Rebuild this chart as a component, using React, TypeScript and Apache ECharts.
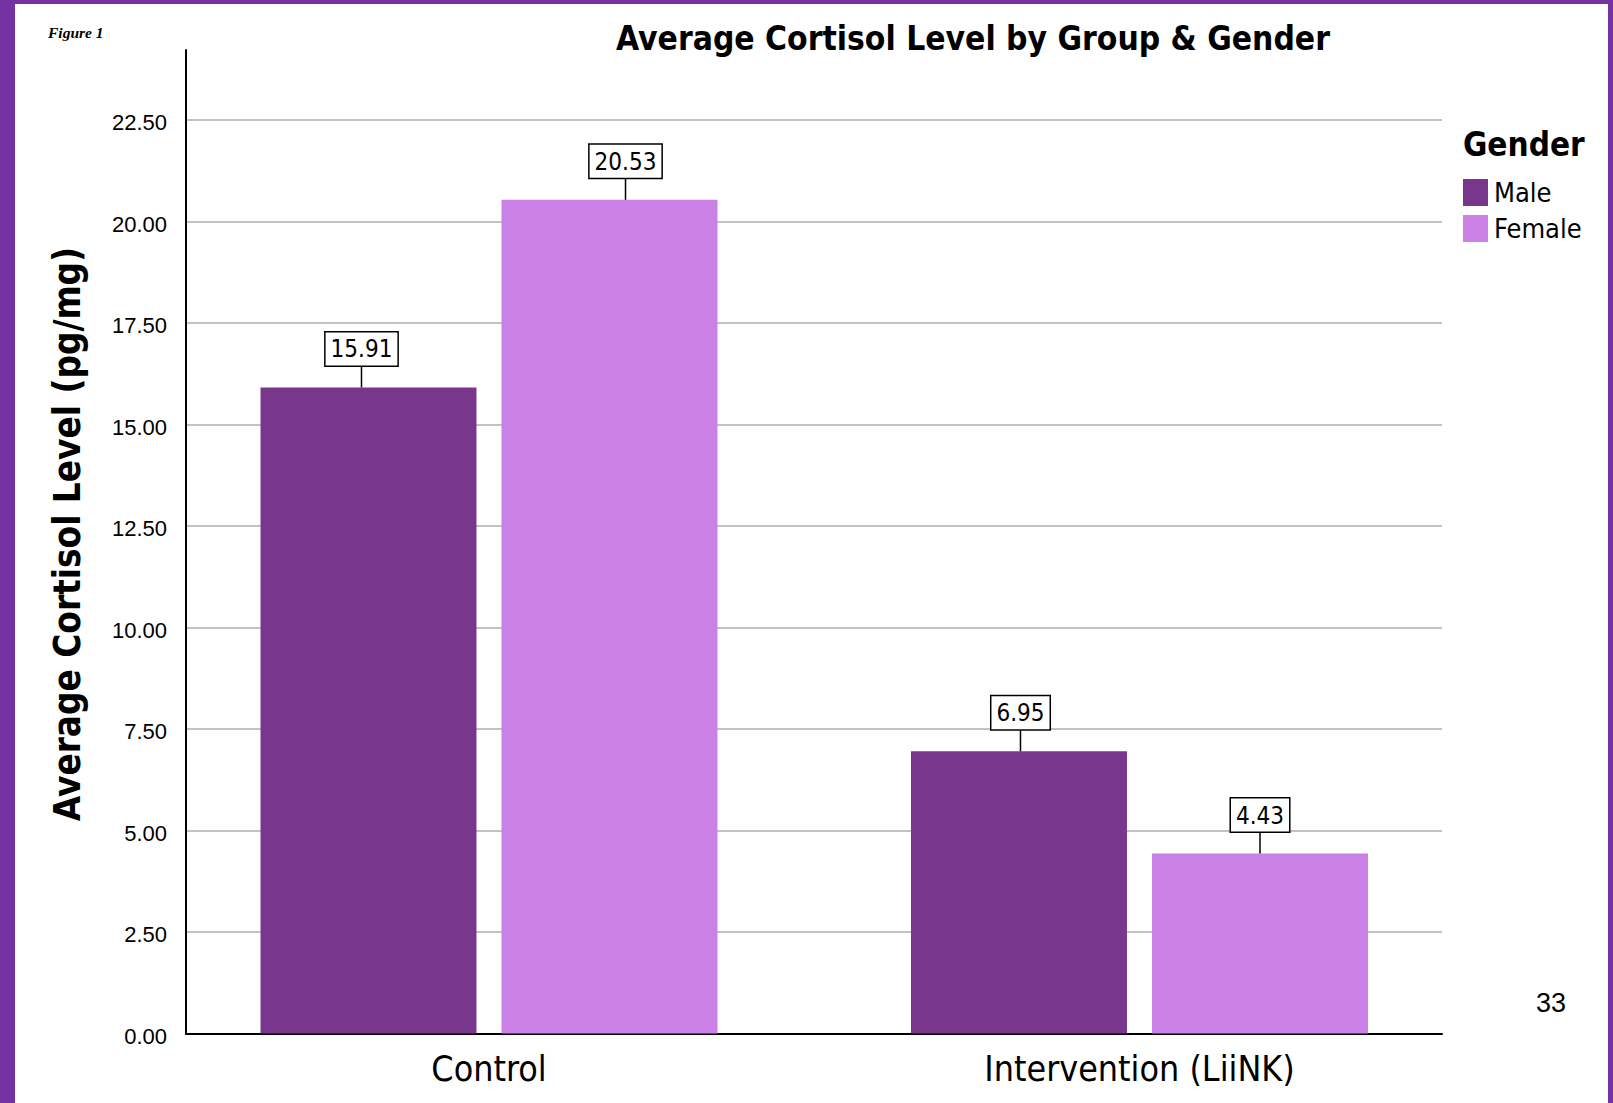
import React, { useEffect, useRef } from 'react';
import * as echarts from 'echarts';

// ---- data ----
const categories = ['Control', 'Intervention (LiiNK)'];
const seriesNames = ['Male', 'Female'];
const maleValues = [15.91, 6.95];
const femaleValues = [20.53, 4.43];
const yTicks = [0, 2.5, 5, 7.5, 10, 12.5, 15, 17.5, 20, 22.5];
const chartTitle = 'Average Cortisol Level by Group & Gender';
const yAxisTitle = 'Average Cortisol Level (pg/mg)';
const legendTitle = 'Gender';
const figureLabel = 'Figure 1';
const pageNumber = '33';

// ---- style ----
const AXIS_MAX = 24.22;
const BAR_W = 0.332;
const BAR_GAP = 0.116;
const LABEL_SHIFT = [
  [-7, 1.5],
  [16, 0],
];
const COLORS = ['#78368C', '#CB80E5'];
const BORDER = '#7432A2';
const FONT = "'DejaVu Sans Condensed', 'DejaVu Sans', sans-serif";
const ARIAL = "'Liberation Sans', Arial, sans-serif";

export default function App() {
  const ref = useRef<HTMLDivElement>(null);

  useEffect(() => {
    document.body.style.margin = '0';
    const chart = echarts.init(ref.current!, null, { renderer: 'svg' });

    const valuesBySeries = [maleValues, femaleValues];

    const makeLabelSeries = (si: number) => ({
      type: 'custom',
      name: seriesNames[si] + ' value',
      xAxisIndex: 1,
      yAxisIndex: 1,
      z: 10,
      silent: true,
      data: valuesBySeries[si].map((v, i) => [i, v]),
      renderItem: (params: any, api: any) => {
        const ci = api.value(0);
        const v = api.value(1);
        const p = api.coord([ci, v]);
        const band = api.size([1, 0])[0];
        const bw = band * BAR_W;
        const gap = bw * BAR_GAP;
        const cx = p[0] + (si === 0 ? -1 : 1) * (bw + gap) / 2 + LABEL_SHIFT[si][ci];
        const top = p[1] - 22;
        return {
          type: 'group',
          children: [
            {
              type: 'line',
              shape: { x1: cx, y1: p[1], x2: cx, y2: top },
              style: { stroke: '#000', lineWidth: 1.5 },
            },
            {
              type: 'text',
              x: cx,
              y: top,
              style: {
                text: Number(v).toFixed(2),
                fontSize: 24,
                fontFamily: FONT,
                fill: '#000',
                align: 'center',
                verticalAlign: 'bottom',
                backgroundColor: '#fff',
                borderColor: '#000',
                borderWidth: 1.5,
                padding: [5, 5, 4, 5],
              },
            },
          ],
        };
      },
    });

    const splitColors = yTicks.map(() => '#c2c2c2').concat(['rgba(0,0,0,0)']);

    const option: any = {
      animation: false,
      backgroundColor: '#fff',
      grid: [
        { left: 186, top: 50, width: 1256, bottom: 69.5 },
        { left: 163.75, top: 50, width: 1301, bottom: 69.5 },
      ],
      xAxis: [
        {
          type: 'category',
          gridIndex: 0,
          data: categories,
          axisLine: { show: true, lineStyle: { color: '#000', width: 2 } },
          axisTick: { show: false },
          axisLabel: { show: false },
          splitLine: { show: false },
        },
        {
          type: 'category',
          gridIndex: 1,
          data: categories,
          axisLine: { show: false },
          axisTick: { show: false },
          axisLabel: {
            show: true,
            fontSize: 35.5,
            fontFamily: FONT,
            color: '#000',
            margin: 17,
          },
        },
      ],
      yAxis: [
        {
          type: 'value',
          gridIndex: 0,
          min: 0,
          max: AXIS_MAX,
          interval: 2.5,
          axisLine: { show: true, lineStyle: { color: '#000', width: 2 } },
          axisTick: { show: false },
          axisLabel: {
            fontSize: 22,
            fontFamily: ARIAL,
            color: '#000',
            margin: 19,
            formatter: (val: number) =>
              yTicks.some((t) => Math.abs(t - val) < 1e-6) ? '{v|' + val.toFixed(2) + '}' : '',
            rich: {
              v: {
                fontSize: 22,
                fontFamily: ARIAL,
                color: '#000',
                padding: [6, 0, 0, 0],
              },
            },
          },
          splitLine: { show: true, lineStyle: { color: splitColors, width: 2 } },
        },
        {
          type: 'value',
          gridIndex: 1,
          min: 0,
          max: AXIS_MAX,
          interval: 2.5,
          axisLine: { show: false },
          axisTick: { show: false },
          axisLabel: { show: false },
          splitLine: { show: false },
        },
      ],
      legend: {
        data: seriesNames,
        orient: 'vertical',
        left: 1463,
        top: 179,
        padding: 0,
        itemWidth: 25,
        itemHeight: 27,
        itemGap: 9,
        icon: 'rect',
        selectedMode: false,
        textStyle: {
          fontSize: 27,
          fontFamily: FONT,
          color: '#000',
          padding: [0, 0, 0, 1],
        },
      },
      series: [
        {
          type: 'bar',
          name: seriesNames[0],
          xAxisIndex: 1,
          yAxisIndex: 1,
          data: maleValues,
          barWidth: BAR_W * 100 + '%',
          barGap: BAR_GAP * 100 + '%',
          itemStyle: { color: COLORS[0] },
        },
        {
          type: 'bar',
          name: seriesNames[1],
          xAxisIndex: 1,
          yAxisIndex: 1,
          data: femaleValues,
          barWidth: BAR_W * 100 + '%',
          barGap: BAR_GAP * 100 + '%',
          itemStyle: { color: COLORS[1] },
        },
        makeLabelSeries(0),
        makeLabelSeries(1),
      ],
      graphic: [
        { type: 'rect', left: 0, top: 0, shape: { width: 15, height: 1103 }, style: { fill: BORDER } },
        { type: 'rect', left: 0, top: 0, shape: { width: 1613, height: 4 }, style: { fill: BORDER } },
        { type: 'rect', left: 1608, top: 0, shape: { width: 5, height: 1103 }, style: { fill: BORDER } },
        {
          type: 'text',
          x: 973,
          y: 38,
          style: {
            text: chartTitle,
            fontSize: 33.3,
            fontWeight: 'bold',
            fontFamily: FONT,
            fill: '#000',
            align: 'center',
            verticalAlign: 'middle',
          },
        },
        {
          type: 'text',
          x: 67,
          y: 534,
          rotation: Math.PI / 2,
          style: {
            text: yAxisTitle,
            fontSize: 36.5,
            fontWeight: 'bold',
            fontFamily: FONT,
            fill: '#000',
            align: 'center',
            verticalAlign: 'middle',
          },
        },
        {
          type: 'text',
          x: 1463,
          y: 144,
          style: {
            text: legendTitle,
            fontSize: 33,
            fontWeight: 'bold',
            fontFamily: FONT,
            fill: '#000',
            align: 'left',
            verticalAlign: 'middle',
          },
        },
        {
          type: 'text',
          x: 48,
          y: 32,
          style: {
            text: figureLabel,
            fontSize: 15.5,
            fontWeight: 'bold',
            fontStyle: 'italic',
            fontFamily: "'Liberation Serif', 'DejaVu Serif', serif",
            fill: '#000',
            align: 'left',
            verticalAlign: 'middle',
          },
        },
        {
          type: 'text',
          x: 1551,
          y: 1003,
          style: {
            text: pageNumber,
            fontSize: 27,
            fontFamily: ARIAL,
            fill: '#000',
            align: 'center',
            verticalAlign: 'middle',
          },
        },
      ],
    };

    chart.setOption(option);
    return () => chart.dispose();
  }, []);

  return <div ref={ref} style={{ width: 1613, height: 1103 }} />;
}
